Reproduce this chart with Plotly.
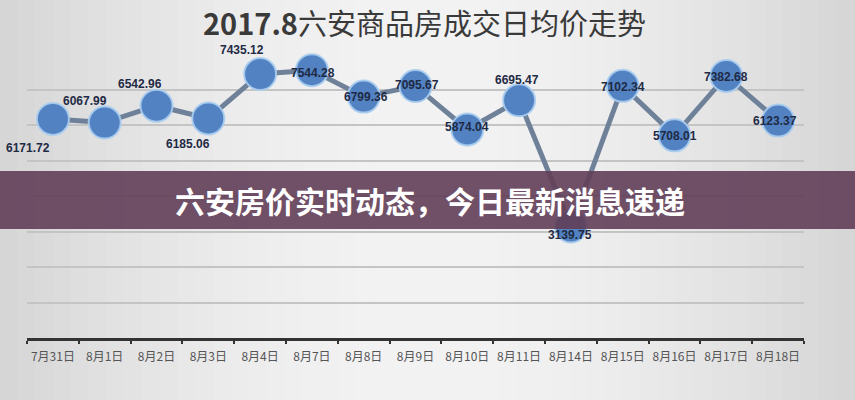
import plotly.graph_objects as go

# ---- data ----
dates = ["7月31日", "8月1日", "8月2日", "8月3日", "8月4日", "8月7日", "8月8日", "8月9日",
         "8月10日", "8月11日", "8月14日", "8月15日", "8月16日", "8月17日", "8月18日"]
prices = [6171.72, 6067.99, 6542.96, 6185.06, 7435.12, 7544.28, 6799.36, 7095.67,
          5874.04, 6695.47, 3139.75, 7102.34, 5708.01, 7382.68, 6123.37]
title_num = "2017.8"
title_cn = "六安商品房成交日均价走势"
banner_text = "六安房价实时动态，今日最新消息速递"

# label offsets in pixels relative to each marker (style)
label_dx = [-25, -20, -17, -20, -18, 1, 2, 1, 0, -2, -1, 0, 0, 0, -3]
label_dy = [-29, 22, 22, -26, 24, -3, 0, 1, 2, 20, -8, -1, -1, -1, 0]

W, H = 855, 400
ML, MR, MT, MB = 27, 51, 54, 62
PW, PH = W - ML - MR, H - MT - MB

fig = go.Figure()

fig.add_trace(go.Scatter(
    x=dates, y=prices, mode="lines+markers",
    line=dict(color="#6f8199", width=5),
    marker=dict(size=32, color="#5282c2", line=dict(color="rgba(170,205,240,0.9)", width=2)),
    cliponaxis=False, hoverinfo="skip", showlegend=False,
))

annotations = []
for d, v, dx, dy in zip(dates, prices, label_dx, label_dy):
    annotations.append(dict(x=d, y=v, text=f"<b>{v:.2f}</b>", showarrow=False,
                            xshift=dx, yshift=dy,
                            font=dict(family="Liberation Sans, Arial, sans-serif", size=12,
                                      color="#1f2a44")))

# background vignette strips covering the whole figure
shapes = []
n = 48
x_lo, x_hi = -ML / PW, (W - ML) / PW
for i in range(n):
    t = (i + 0.5) / n
    d = abs(t - 0.5) * 2
    g = int(243 - 30 * d ** 1.8)
    x0 = x_lo + (x_hi - x_lo) * i / n
    x1 = x_lo + (x_hi - x_lo) * (i + 1) / n
    shapes.append(dict(type="rect", xref="paper", yref="paper", layer="below",
                       x0=x0 - 0.001, x1=x1 + 0.001, y0=-MB / PH - 0.05, y1=(H - MB) / PH + 0.05,
                       fillcolor=f"rgb({g},{g},{g+1})", line=dict(width=0)))
# banner
shapes.append(dict(type="rect", xref="paper", yref="paper", layer="above",
                   x0=x_lo - 0.02, x1=x_hi + 0.02,
                   y0=(H - MB - 229) / PH, y1=(H - MB - 171) / PH,
                   fillcolor="rgba(98,62,88,0.9)", line=dict(width=0)))

annotations += [
    dict(text=f"<b>{title_num}</b>{title_cn}", xref="paper", yref="paper",
         x=(424 - ML) / PW, y=(H - MB - 22) / PH, xanchor="center", yanchor="middle",
         showarrow=False,
         font=dict(family="Noto Sans CJK SC", size=29, color="#3a3a3a")),
    dict(text=f"<b>{banner_text}</b>", xref="paper", yref="paper",
         x=(430 - ML) / PW, y=(H - MB - 200) / PH, xanchor="center", yanchor="middle",
         showarrow=False,
         font=dict(family="Noto Sans CJK SC", size=30, color="#ffffff")),
]

fig.update_layout(
    width=W, height=H,
    margin=dict(l=ML, r=MR, t=MT, b=MB),
    paper_bgcolor="#e6e6e8", plot_bgcolor="rgba(0,0,0,0)",
    shapes=shapes,
    annotations=annotations,
    xaxis=dict(type="category", range=[-0.5, 14.5], showgrid=False,
               showline=True, linecolor="#333333", linewidth=3,
               ticks="outside", tickson="boundaries", ticklen=3, tickcolor="#333333", tickwidth=2,
               tickangle=0, ticklabelstandoff=6,
               tickfont=dict(family="Noto Sans CJK SC", size=12, color="#555555")),
    yaxis=dict(range=[0, 8000], dtick=1000, showgrid=True, gridcolor="#c4c4c4", gridwidth=1.5,
               showticklabels=False, zeroline=False, showline=False),
)

fig.write_html("out.html", config={"displayModeBar": False},
               post_script="document.body.style.margin='0';document.body.style.overflow='hidden';")
